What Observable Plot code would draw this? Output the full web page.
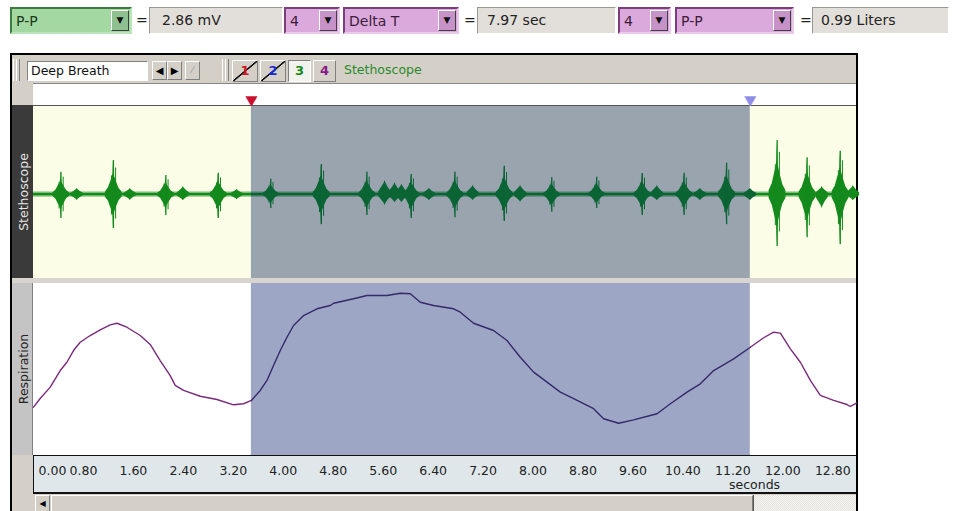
<!DOCTYPE html>
<html><head><meta charset="utf-8">
<script src="https://cdn.jsdelivr.net/npm/d3@7"></script>
<script src="https://cdn.jsdelivr.net/npm/@observablehq/plot@0.6"></script>
<style>
body{margin:0;width:956px;height:511px;position:relative;overflow:hidden;background:#fff;font-family:"DejaVu Sans",sans-serif;}
.a{position:absolute;box-sizing:border-box;}
.raised{border:1px solid;border-color:#fff #808080 #808080 #fff;background:#d4d0c8;}
.inset{border:1px solid;border-color:#808080 #fff #fff #808080;}
.box{height:27px;top:7px;font-size:14px;line-height:25px;padding-left:4px;white-space:nowrap;}
.green{background:#a4d8a2;border:2px solid;border-color:#3f7a3f #b8e6b8 #b8e6b8 #3f7a3f;color:#1c3a1c;}
.purple{background:#dba9dc;border:2px solid;border-color:#7a3f7a #eac8ea #eac8ea #7a3f7a;color:#3a1c3a;}
.gray{background:#e2dfda;border:1px solid;border-color:#9a9690 #fff #fff #9a9690;color:#222;}
.dd{position:absolute;right:1px;top:1px;width:18px;height:21px;box-sizing:border-box;border:1px solid;border-color:#fff #404040 #404040 #fff;font-size:9px;line-height:19px;text-align:center;color:#111;}
.eq{font-size:14px;top:12px;color:#222;}
.chbtn{top:60px;height:22px;font-size:13px;font-weight:bold;text-align:center;line-height:20px;}
.strike{background:linear-gradient(to bottom right,transparent 47%,#111 49%,#111 52%,transparent 54%),#d4d0c8;}
.plot{position:absolute;}
</style></head><body>

<!-- measurement readouts -->
<div class="a box green" style="left:10px;width:122px;">P-P<div class="dd" style="background:#8fc08f;">&#9660;</div></div>
<div class="a eq" style="left:136px;">=</div>
<div class="a box gray" style="left:149px;width:134px;padding-left:12px;">2.86 mV</div>
<div class="a box purple" style="left:284px;width:56px;">4<div class="dd" style="background:#c692c7;">&#9660;</div></div>
<div class="a box purple" style="left:343px;width:116px;">Delta T<div class="dd" style="background:#c692c7;">&#9660;</div></div>
<div class="a eq" style="left:464px;">=</div>
<div class="a box gray" style="left:477px;width:139px;padding-left:9px;">7.97 sec</div>
<div class="a box purple" style="left:618px;width:53px;">4<div class="dd" style="background:#c692c7;">&#9660;</div></div>
<div class="a box purple" style="left:675px;width:119px;">P-P<div class="dd" style="background:#c692c7;">&#9660;</div></div>
<div class="a eq" style="left:800px;">=</div>
<div class="a box gray" style="left:812px;width:137px;padding-left:8px;">0.99 Liters</div>

<!-- window -->
<div class="a" style="left:10px;top:53px;width:848px;height:470px;border:2px solid #000;background:#d4d0c8;"></div>
<!-- window toolbar -->
<div class="a" style="left:13px;top:59px;width:4px;height:22px;border-left:1px solid #fff;border-right:1px solid #808080;"></div>
<div class="a" style="left:16px;top:59px;width:4px;height:22px;border-left:1px solid #fff;border-right:1px solid #808080;"></div>
<div class="a inset" style="left:27px;top:61px;width:121px;height:20px;background:#fff;font-size:12.5px;line-height:18px;padding-left:3px;color:#111;">Deep Breath</div>
<div class="a raised" style="left:152px;top:61px;width:15px;height:19px;font-size:10px;line-height:17px;text-align:center;">&#9664;</div>
<div class="a raised" style="left:167px;top:61px;width:15px;height:19px;font-size:10px;line-height:17px;text-align:center;">&#9654;</div>
<div class="a raised" style="left:185px;top:61px;width:15px;height:19px;font-size:9px;line-height:17px;text-align:center;color:#999;">&#8260;</div>
<div class="a" style="left:222px;top:59px;width:4px;height:22px;border-left:1px solid #fff;border-right:1px solid #808080;"></div>
<div class="a" style="left:225px;top:59px;width:4px;height:22px;border-left:1px solid #fff;border-right:1px solid #808080;"></div>
<div class="a chbtn raised strike" style="left:232px;width:26px;color:#d0141e;">1</div>
<div class="a chbtn raised strike" style="left:260px;width:26px;color:#1a2ad0;">2</div>
<div class="a chbtn inset" style="left:288px;width:23px;background:#f2f2ee;color:#1a8a1a;">3</div>
<div class="a chbtn raised" style="left:313px;width:23px;color:#8a1a8a;">4</div>
<div class="a" style="left:344px;top:62px;font-size:12.5px;color:#2a8a2a;">Stethoscope</div>

<!-- left channel label column -->
<div class="a" style="left:12px;top:105px;width:21px;height:173px;background:#3a3a3a;"></div>
<div class="a" style="left:12px;top:283px;width:21px;height:172px;background:#c4c4c4;border-right:1px solid #808080;"></div>
<div class="a" style="left:12px;top:278px;width:844px;height:5px;background:#d8d5d0;"></div>
<div class="a" style="left:22.5px;top:192px;transform:translate(-50%,-50%) rotate(-90deg);font-size:12.5px;color:#e4e4e4;white-space:nowrap;">Stethoscope</div>
<div class="a" style="left:22.5px;top:369px;transform:translate(-50%,-50%) rotate(-90deg);font-size:12.5px;color:#222;white-space:nowrap;">Respiration</div>

<!-- marker bar, axis area and scrollbar frames -->
<div class="a" style="left:33px;top:83px;width:823px;height:23px;background:#fff;border-top:1px solid #888;border-bottom:1px solid #555;"></div>
<div class="a" style="left:33px;top:454px;width:823px;height:40px;background:#dfe7ea;border-top:2px solid #111;border-bottom:2px solid #111;border-left:1px solid #111;"></div>
<div class="a raised" style="left:35px;top:495px;width:15px;height:17px;font-size:8px;line-height:15px;text-align:center;">&#9664;</div>
<div class="a raised" style="left:51px;top:495px;width:702px;height:17px;"></div>
<div class="a" style="left:753px;top:495px;width:103px;height:17px;background:repeating-conic-gradient(#e6e4df 0% 25%,#f4f3f0 0% 50%) 0 0/2px 2px;border-left:1px solid #555;"></div>
<div class="a" style="left:729px;top:478px;font-size:12.5px;line-height:14px;color:#222;">seconds</div>

<div id="marker" class="plot" style="left:33px;top:84px;"></div>
<div id="steth" class="plot" style="left:33px;top:106px;"></div>
<div id="resp" class="plot" style="left:33px;top:283px;"></div>
<div id="axis" class="plot" style="left:33px;top:455px;"></div>

<script>
// ---- data ----
const selStart = 3.49;   // seconds
const selEnd = 11.48;    // seconds
const xMax = 13.18;

// stethoscope heart-sound bursts (mV): time, upper extent, lower extent
const burstTimes = [0.44, 1.28, 2.12, 2.96, 3.80, 4.61, 5.34, 6.05, 6.75, 7.54, 8.30, 9.02, 9.75, 10.42, 11.10, 11.91, 12.39, 12.92];
const burstHigh  = [1.08, 1.65, 0.92, 1.03, 0.74, 1.46, 1.08, 0.97, 1.08, 1.37, 0.82, 0.84, 1.02, 1.03, 1.52, 2.62, 1.78, 2.10];
const burstLow   = [-1.16, -1.65, -1.02, -1.16, -0.68, -1.46, -1.02, -1.16, -1.12, -1.31, -0.86, -0.68, -1.02, -1.02, -1.46, -2.52, -2.10, -2.43];

// smaller secondary sounds (mV)
const bumpTimes = [0.70, 1.55, 2.40, 3.26, 5.63, 5.79, 5.90, 6.34, 7.04, 7.80, 9.99, 10.68, 11.48, 12.63, 13.13];
const bumpHigh  = [0.29, 0.29, 0.39, 0.25, 0.68, 0.58, 0.50, 0.30, 0.44, 0.44, 0.44, 0.30, 0.30, 0.39, 0.44];
const bumpLow   = [-0.29, -0.29, -0.30, -0.25, -0.53, -0.40, -0.40, -0.30, -0.29, -0.37, -0.30, -0.30, -0.30, -0.68, -0.30];

// respiration volume (Liters), relative
const respTime = [0.00, 0.107, 0.268, 0.428, 0.535, 0.641, 0.748, 0.908, 1.068, 1.229, 1.336, 1.496, 1.709, 1.869, 2.029, 2.189, 2.270, 2.403, 2.670, 2.938, 3.204, 3.364, 3.49,
  3.631, 3.739, 3.844, 3.952, 4.059, 4.165, 4.325, 4.540, 4.752, 4.805, 5.126, 5.340, 5.661, 5.874, 6.034, 6.194, 6.407, 6.728, 6.835, 7.048, 7.368, 7.583, 7.796, 8.009,
  8.224, 8.437, 8.650, 8.970, 9.131, 9.371, 9.611, 9.878, 9.986, 10.199, 10.466, 10.679, 10.892, 11.213, 11.48, 11.693, 11.853, 11.961, 12.121, 12.281, 12.441, 12.601,
  12.814, 13.028, 13.081, 13.177];
const respVolume = [-0.286, -0.220, -0.134, -0.008, 0.055, 0.144, 0.207, 0.258, 0.301, 0.339, 0.351, 0.321, 0.258, 0.190, 0.068, -0.046, -0.121, -0.159, -0.203, -0.228, -0.268, -0.260, -0.235,
  -0.159, -0.083, 0.030, 0.144, 0.245, 0.334, 0.410, 0.461, 0.486, 0.503, 0.537, 0.562, 0.562, 0.579, 0.575, 0.511, 0.486, 0.461, 0.435, 0.351, 0.296, 0.220, 0.093, -0.020,
  -0.096, -0.172, -0.222, -0.298, -0.374, -0.408, -0.382, -0.349, -0.336, -0.260, -0.172, -0.109, -0.008, 0.081, 0.169, 0.241, 0.283, 0.276, 0.157, 0.055, -0.083, -0.197,
  -0.235, -0.266, -0.281, -0.255];

// time axis
const tickValues = [0, 0.8, 1.6, 2.4, 3.2, 4.0, 4.8, 5.6, 6.4, 7.2, 8.0, 8.8, 9.6, 10.4, 11.2, 12.0, 12.8];
const tickLabels = ["0.00", "0.80", "1.60", "2.40", "3.20", "4.00", "4.80", "5.60", "6.40", "7.20", "8.00", "8.80", "9.60", "10.40", "11.20", "12.00", "12.80"];

// ---- tables ----
const inSel = t => t >= selStart && t <= selEnd;
const regions = [
  {x1: 0, x2: selStart, sel: false},
  {x1: selStart, x2: selEnd, sel: true},
  {x1: selEnd, x2: xMax, sel: false}
];
const bursts = burstTimes.map((t, i) => ({t, hi: burstHigh[i], lo: burstLow[i]}));
const bumps = bumpTimes.map((t, i) => ({t, hi: bumpHigh[i], lo: bumpLow[i]}));
const resp = respTime.map((t, i) => ({t, v: respVolume[i]}));
const ticks = tickValues.map((v, i) => ({v, label: tickLabels[i]}));
const markers = [{t: selStart, c: "#c8102e"}, {t: selEnd, c: "#8e8ee6"}];

// spindle outline used to draw each sound burst (offset in s, fraction of extent)
const burstShape = [[-0.13, 0.07], [-0.08, 0.2], [-0.045, 0.38], [-0.02, 0.5], [-0.008, 0.62], [0, 1], [0.008, 0.66], [0.02, 0.52], [0.05, 0.36], [0.09, 0.18], [0.14, 0.07]];
const bumpShape = [[-0.1, 0.2], [-0.05, 0.55], [-0.015, 0.8], [0, 1], [0.015, 0.8], [0.05, 0.5], [0.1, 0.2]];
const outline = (list, shape) => list.flatMap((d, i) => shape.map(([o, f]) => ({id: i, t: d.t, x: d.t + o, y1: d.lo * f, y2: d.hi * f})));

const W = 823, H = 172;
const brightG = "#148a1c", darkG = "#0b6434";
const gcol = d => inSel(d.t) ? darkG : brightG;
const common = {width: W, margin: 0, x: {domain: [0, xMax], axis: null}, color: {type: "identity"},
  style: {background: "transparent", overflow: "visible"}};

// marker bar
document.getElementById("marker").append(Plot.plot({...common, height: 21,
  y: {domain: [0, 1], axis: null},
  marks: [
    Plot.dot(markers, {x: "t", y: () => 0.27, symbol: "triangle", rotate: 180, r: 4.2, fill: "c", stroke: "c", strokeWidth: 0.5})
  ]}));

// stethoscope
document.getElementById("steth").append(Plot.plot({...common, height: H,
  y: {domain: [-4.07, 4.27], axis: null},
  marks: [
    Plot.rect(regions, {x1: "x1", x2: "x2", fill: d => d.sel ? "#99a4ae" : "#fbfde7"}),
    // baseline noise band
    Plot.rect(regions, {x1: "x1", x2: "x2", y1: () => -0.13, y2: () => 0.13, fill: d => d.sel ? darkG : brightG, fillOpacity: 0.45}),
    Plot.rect(regions, {x1: "x1", x2: "x2", y1: () => -0.06, y2: () => 0.06, fill: d => d.sel ? darkG : brightG}),
    // secondary sounds
    Plot.areaY(outline(bumps, bumpShape), {x: "x", y1: "y1", y2: "y2", z: "id", fill: gcol, curve: "linear"}),
    // main heart sounds
    Plot.areaY(outline(bursts, burstShape), {x: "x", y1: "y1", y2: "y2", z: "id", fill: gcol, curve: "linear"}),
    Plot.ruleX(bursts, {x: d => d.t + 0.035, y1: d => d.lo * 0.72, y2: d => d.hi * 0.78, stroke: gcol, strokeWidth: 1}),
    Plot.ruleX(bursts, {x: d => d.t - 0.03, y1: d => d.lo * 0.6, y2: d => d.hi * 0.55, stroke: gcol, strokeWidth: 1}),
    Plot.ruleX(bursts, {x: "t", y1: "lo", y2: "hi", stroke: gcol, strokeWidth: 1.3})
  ]}));

// respiration
const lineOut = "#7a2a7c", lineSel = "#34296a";
document.getElementById("resp").append(Plot.plot({...common, height: H,
  y: {domain: [-0.653, 0.653], axis: null},
  marks: [
    Plot.rect(regions, {x1: "x1", x2: "x2", fill: d => d.sel ? "#9ea6c5" : "#ffffff"}),
    Plot.line(resp.filter(d => d.t <= selStart), {x: "t", y: "v", stroke: lineOut, strokeWidth: 1.4}),
    Plot.line(resp.filter(d => d.t >= selStart && d.t <= selEnd), {x: "t", y: "v", stroke: lineSel, strokeWidth: 1.4}),
    Plot.line(resp.filter(d => d.t >= selEnd), {x: "t", y: "v", stroke: lineOut, strokeWidth: 1.4})
  ]}));

// time axis labels
document.getElementById("axis").append(Plot.plot({...common, height: 38,
  y: {domain: [0, 1], axis: null},
  marks: [
    Plot.text(ticks.slice(0, 1), {x: "v", text: "label", frameAnchor: "top", dy: 11, dx: 5, textAnchor: "start", fontSize: 12.5, fill: "#222", fontFamily: "DejaVu Sans"}),
    Plot.text(ticks.slice(1), {x: "v", text: "label", frameAnchor: "top", dy: 11, fontSize: 12.5, fill: "#222", fontFamily: "DejaVu Sans"})
  ]}));
</script>
</body></html>
